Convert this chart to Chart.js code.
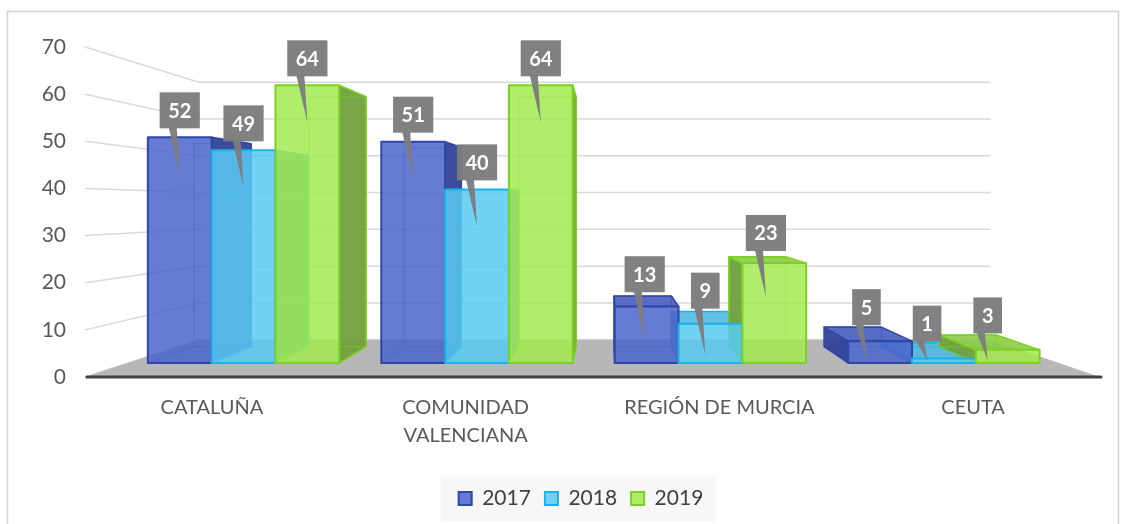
<!DOCTYPE html>
<html><head><meta charset="utf-8">
<script src="https://cdn.jsdelivr.net/npm/chart.js@4/dist/chart.umd.min.js"></script>
<style>html,body{margin:0;padding:0;background:#fff;overflow:hidden}#wrap{width:1131px;height:524px;position:relative}</style>
</head><body><div id="wrap"><canvas id="c"></canvas></div>
<script>
// ---- data ----
const categories = ['CATALUÑA', ['COMUNIDAD', 'VALENCIANA'], 'REGIÓN DE MURCIA', 'CEUTA'];
const seriesNames = ['2017', '2018', '2019'];
const values2017 = [52, 51, 13, 5];
const values2018 = [49, 40, 9, 1];
const values2019 = [64, 64, 23, 3];
const yTickMin = 0, yTickMax = 70, yTickStep = 10;

// ---- styles ----
const FONT = 'Lato, "Open Sans", sans-serif';
const styles = [
  {front:'rgba(75,100,202,0.85)', border:'#2e47a8', side:'rgba(44,62,150,0.92)', top:'rgba(70,92,190,0.9)', edge:'rgba(46,71,168,0.45)'},
  {front:'rgba(88,202,242,0.85)', border:'#1cb1ea', side:'rgba(50,150,195,0.9)', top:'rgba(80,185,225,0.9)', edge:'rgba(28,177,234,0.45)'},
  {front:'rgba(162,234,80,0.85)', border:'#7ad123', side:'rgba(114,160,62,0.95)', top:'rgba(140,205,70,0.9)', edge:'rgba(122,209,35,0.5)'}
];
const seriesValues = [values2017, values2018, values2019];

function P(p, x, y, s){ return [p.vx + s*(x-p.vx), p.vy + s*(y-p.vy)]; }
function poly(ctx, pts, fill, stroke, lw){
  ctx.beginPath(); ctx.moveTo(pts[0][0], pts[0][1]);
  for (let i=1;i<pts.length;i++) ctx.lineTo(pts[i][0], pts[i][1]);
  ctx.closePath();
  if (fill){ ctx.fillStyle = fill; ctx.fill(); }
  if (stroke){ ctx.strokeStyle = stroke; ctx.lineWidth = lw||1.5; ctx.lineJoin='round'; ctx.stroke(); }
}
function line(ctx, a, b, c, w){ ctx.beginPath(); ctx.moveTo(a[0],a[1]); ctx.lineTo(b[0],b[1]); ctx.strokeStyle=c; ctx.lineWidth=w; ctx.stroke(); }

const LEGEND_SHIFT = 31;
const scene3d = {
  id: 'scene3d',
  afterLayout(chart){
    const lg = chart.legend;
    if (!lg) return;
    lg.left += LEGEND_SHIFT; lg.right += LEGEND_SHIFT;
    if (lg.legendHitBoxes) lg.legendHitBoxes.forEach(h => { h.left += LEGEND_SHIFT; });
  },
  beforeDraw(chart){
    const ctx = chart.ctx, lg = chart.legend;
    ctx.save();
    ctx.strokeStyle = '#d4d4d4'; ctx.lineWidth = 1.5;
    ctx.strokeRect(7.5, 11.5, 1111, 540);
    if (lg && lg.legendHitBoxes && lg.legendHitBoxes.length){
      let l=Infinity, r=-Infinity, t=Infinity, b=-Infinity;
      for (const h of lg.legendHitBoxes){ l=Math.min(l,h.left); r=Math.max(r,h.left+h.width); t=Math.min(t,h.top); b=Math.max(b,h.top+h.height); }
      const cy = (t+b)/2;
      ctx.fillStyle = '#f7f7f7';
      ctx.fillRect(l-18, cy-23, r-l+31, 46);
    }
    ctx.restore();
  },
  beforeDatasetsDraw(chart){
    const ctx = chart.ctx, a = chart.chartArea, ys = chart.scales.y;
    const W = a.right - a.left, H = a.bottom - a.top;
    const barP = {vx: a.left + 0.515*W, vy: a.top + 0.465*H};
    const wallP = {vx: a.left + 0.51*W, vy: a.top + 0.486*H};
    const sWall = 0.78, sFront = 0.92, sBack = 0.92*0.9;
    ctx.save();
    // wall gridlines
    const y0 = ys.getPixelForValue(0);
    for (let v = yTickMin; v <= yTickMax; v += yTickStep){
      const y = ys.getPixelForValue(v);
      const b1 = P(wallP, a.left, y, sWall), b2 = P(wallP, a.right, y, sWall);
      ctx.beginPath(); ctx.moveTo(a.left, y); ctx.lineTo(b1[0], b1[1]); ctx.lineTo(b2[0], b2[1]);
      ctx.strokeStyle = '#d9d9d9'; ctx.lineWidth = 1.5; ctx.stroke();
    }
    // floor
    poly(ctx, [[a.left, y0], [a.right, y0], P(wallP, a.right, y0, sWall), P(wallP, a.left, y0, sWall)], '#b7b7b7');
    // axis line
    ctx.lineCap = 'round';
    line(ctx, [a.left+2, y0], [a.right+1, y0], '#404040', 3);
    ctx.lineCap = 'butt';

    // collect bars
    const bars = [];
    chart.data.datasets.forEach((ds, di) => {
      const meta = chart.getDatasetMeta(di);
      if (meta.hidden) return;
      meta.data.forEach((el, i) => {
        const p = el.getProps(['x','y','base','width'], true);
        const xl = p.x - p.width/2, xr = p.x + p.width/2, yt = p.y, yb = p.base;
        const F = {tl:P(barP,xl,yt,sFront), tr:P(barP,xr,yt,sFront), br:P(barP,xr,yb,sFront), bl:P(barP,xl,yb,sFront)};
        const B = {tl:P(barP,xl,yt,sBack), tr:P(barP,xr,yt,sBack), br:P(barP,xr,yb,sBack), bl:P(barP,xl,yb,sBack)};
        bars.push({di, i, F, B, st: styles[di], val: ds.data[i], cx: (F.tl[0]+F.tr[0])/2});
      });
    });
    // side + top faces
    for (const b of bars){
      const {F, B, st} = b;
      const rightVisible = b.cx < barP.vx;
      if (rightVisible) poly(ctx, [F.tr, B.tr, B.br, F.br], st.side, st.border, 1.5);
      else poly(ctx, [F.tl, B.tl, B.bl, F.bl], st.side, st.border, 1.5);
      b.topVisible = F.tl[1] > barP.vy;
      if (b.topVisible) poly(ctx, [F.tl, F.tr, B.tr, B.tl], st.top, st.border, 1.5);
    }
    // see-through edges
    for (const b of bars){
      const {F, B, st} = b;
      line(ctx, B.tl, B.bl, st.edge, 1.2); line(ctx, B.tr, B.br, st.edge, 1.2);
      line(ctx, B.bl, B.br, st.edge, 1.2); line(ctx, B.tl, B.tr, st.edge, 1.2);
      line(ctx, F.bl, B.bl, st.edge, 1.2); line(ctx, F.br, B.br, st.edge, 1.2);
    }
    // front faces
    for (const b of bars){
      const {F, st} = b;
      poly(ctx, [F.tl, F.tr, F.br, F.bl], st.front, st.border, 2);
    }
    // labels
    ctx.font = 'bold 20px ' + FONT;
    ctx.textAlign = 'center'; ctx.textBaseline = 'middle';
    for (const b of bars){
      const {F, B} = b;
      const txt = String(b.val);
      const tw = ctx.measureText(txt).width;
      const bw = Math.max(27, tw + 17), bh = 36;
      let cx = b.cx, top = F.tl[1];
      if (b.topVisible){
        cx = (b.cx + (B.tl[0]+B.tr[0])/2)/2;
        top = (F.tl[1] + B.tl[1])/2;
      }
      const bottom = F.bl[1];
      const boxB = top - 9, boxT = boxB - bh;
      const tip = Math.min(top + 37, bottom - 3);
      ctx.fillStyle = 'rgba(125,125,125,0.97)';
      ctx.beginPath(); ctx.moveTo(cx - 11, boxB - 1); ctx.lineTo(cx - 3, boxB - 1); ctx.lineTo(cx, tip); ctx.closePath(); ctx.fill();
      ctx.fillRect(cx - bw/2, boxT, bw, bh);
      ctx.fillStyle = '#ffffff';
      ctx.fillText(txt, cx, boxT + bh/2 + 1);
    }
    ctx.restore();
    return false;
  }
};

new Chart(document.getElementById('c'), {
  type: 'bar',
  data: {
    labels: categories,
    datasets: seriesNames.map((n, k) => ({
      label: n,
      data: seriesValues[k],
      backgroundColor: styles[k].front,
      borderColor: styles[k].border,
      borderWidth: 2,
      categoryPercentage: 0.82,
      barPercentage: 1.0
    }))
  },
  options: {
    responsive: true, maintainAspectRatio: false, animation: false,
    layout: {padding: {left: 0, right: 31, top: 47, bottom: 5}},
    plugins: {
      tooltip: {enabled: false},
      legend: {
        position: 'bottom',
        labels: {boxWidth: 13, boxHeight: 13, padding: 14, color: '#404040', font: {family: FONT, size: 21}}
      }
    },
    scales: {
      x: {
        grid: {display: false}, border: {display: false},
        ticks: {color: '#595959', font: {family: FONT, size: 20, lineHeight: 1.4}, padding: 9, maxRotation: 0, autoSkip: false},
        afterFit(s){ s.height = 97; }
      },
      y: {
        min: yTickMin, max: yTickMax,
        grid: {display: false}, border: {display: false},
        ticks: {stepSize: yTickStep, color: '#595959', font: {family: FONT, size: 21}, padding: 11},
        afterFit(s){ s.width = 85; }
      }
    }
  },
  plugins: [scene3d]
});
</script></body></html>
